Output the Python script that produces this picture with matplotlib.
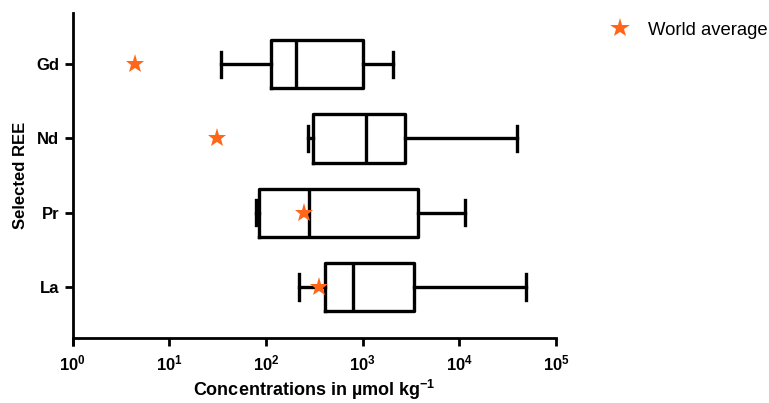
import matplotlib
matplotlib.use('Agg')
import matplotlib.pyplot as plt
from matplotlib.lines import Line2D

plt.rcParams['font.family'] = ['Liberation Sans', 'DejaVu Sans']
plt.rcParams['mathtext.fontset'] = 'custom'
plt.rcParams['mathtext.rm'] = 'Liberation Sans:bold'
plt.rcParams['mathtext.bf'] = 'Liberation Sans:bold'
plt.rcParams['mathtext.it'] = 'Liberation Sans:bold'

# REE order from bottom to top
elements = ['La', 'Pr', 'Nd', 'Gd']
whisker_low = [218, 78, 269, 34]
q1 = [405, 85, 306, 113]
median = [790, 277, 1070, 203]
q3 = [3390, 3700, 2750, 1000]
whisker_high = [49500, 11400, 39500, 2050]
world_avg = [353, 250, 31, 4.4]

xticks = [1, 10, 100, 1000, 10000, 100000]
xtick_labels = ['$10^{0}$', '$10^{1}$', '$10^{2}$', '$10^{3}$', '$10^{4}$', '$10^{5}$']

star_color = '#FF6619'

fig = plt.figure(figsize=(7.69, 4.03), dpi=100)
ax = fig.add_axes([0.0945, 0.161, 0.6285, 0.807])

stats = []
for i, el in enumerate(elements):
    stats.append({'label': el, 'whislo': whisker_low[i], 'q1': q1[i], 'med': median[i],
                  'q3': q3[i], 'whishi': whisker_high[i], 'fliers': []})

pos = list(range(len(elements)))
lw = 2.4
ax.bxp(stats, positions=pos, vert=False, widths=0.65, capwidths=0.34, showfliers=False,
       boxprops=dict(color='black', linewidth=lw),
       medianprops=dict(color='black', linewidth=lw),
       whiskerprops=dict(color='black', linewidth=lw),
       capprops=dict(color='black', linewidth=lw))

ax.plot(world_avg, pos, linestyle='none', marker='*', markersize=14,
        color=star_color, markeredgewidth=0, zorder=5)

ax.set_xscale('log')
ax.set_xlim(1, 1e5)
ax.set_ylim(-0.69, 3.69)
ax.set_xticks(xticks)
ax.set_xticklabels(xtick_labels)
ax.minorticks_off()
ax.set_yticks(pos)
ax.set_yticklabels(elements, fontweight='bold')

for s in ['top', 'right']:
    ax.spines[s].set_visible(False)
for s in ['left', 'bottom']:
    ax.spines[s].set_linewidth(2.0)
# y-axis runs slightly below the x-axis
ax.plot([0, 0], [0, -0.025], transform=ax.transAxes, color='black', linewidth=2.0,
        clip_on=False, solid_capstyle='butt')

ax.tick_params(axis='both', direction='out', length=6, width=2.0, labelsize=12, colors='black')
ax.tick_params(axis='x', pad=5)

ax.set_xlabel('Concentrations in µmol kg$^{-1}$', fontsize=13, fontweight='bold', labelpad=3)
ax.set_ylabel('Selected REE', fontsize=12, fontweight='bold', labelpad=6)

handle = Line2D([], [], linestyle='none', marker='*', markersize=15, color=star_color,
                markeredgewidth=0)
fig.legend([handle], ['World average'], loc='center left', bbox_to_anchor=(0.782, 0.925),
           frameon=False, fontsize=13.3, handletextpad=0.9, borderaxespad=0, handlelength=1.2)

fig.savefig('out.png', dpi=100)
